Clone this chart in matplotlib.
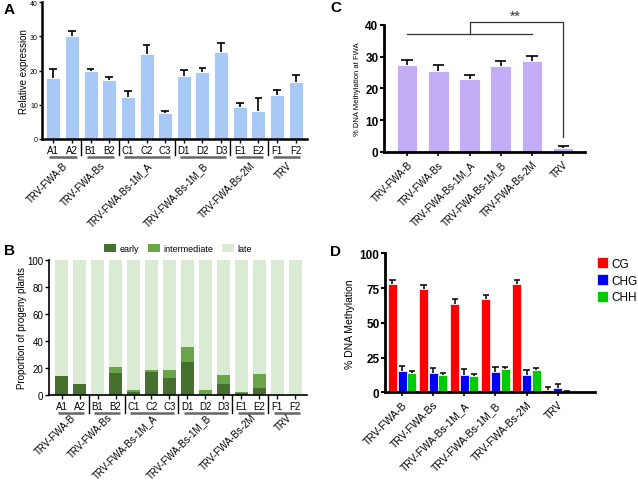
import numpy as np
import matplotlib
matplotlib.use("Agg")
from matplotlib import pyplot as plt

plt.rcParams['font.family'] = ['Liberation Sans', 'DejaVu Sans']

# ---- data ----
samples = ["A1", "A2", "B1", "B2", "C1", "C2", "C3", "D1", "D2", "D3", "E1", "E2", "F1", "F2"]
groups = ["TRV-FWA-B", "TRV-FWA-Bs", "TRV-FWA-Bs-1M_A", "TRV-FWA-Bs-1M_B", "TRV-FWA-Bs-2M", "TRV"]
group_sizes = [2, 2, 3, 3, 2, 2]

# panel A: relative expression
expr = [17.8, 30.1, 19.8, 17.3, 12.4, 24.7, 7.6, 18.3, 19.5, 25.4, 9.3, 8.2, 12.9, 16.7]
expr_err = [2.5, 1.3, 0.5, 0.7, 1.7, 2.7, 0.5, 1.9, 1.1, 2.5, 1.2, 3.8, 1.4, 2.0]

# panel B: flowering time classes (%)
early = [14.3, 7.9, 0, 16.5, 2.0, 16.7, 12.3, 24.6, 0, 8.4, 1.5, 5.4, 0, 0]
intermediate = [0, 0, 0, 4.2, 1.9, 1.8, 6.2, 10.9, 3.9, 6.1, 0.5, 10.1, 0, 0]

# panel C: % methylation at FWA
meth = [27.2, 25.5, 22.8, 27.0, 28.6, 1.2]
meth_err = [1.7, 1.7, 1.5, 1.7, 1.5, 0.7]

# panel D: methylation by context
contexts = ["CG", "CHG", "CHH"]
cg = [77.9, 74.1, 63.5, 66.9, 77.9, 1.9]
cg_err = [3.1, 3.0, 3.6, 3.3, 3.1, 1.9]
chg = [15.1, 14.0, 12.8, 14.5, 12.5, 3.2]
chg_err = [3.9, 3.6, 3.7, 3.9, 3.3, 2.8]
chh = [14.0, 12.5, 11.8, 17.0, 16.2, 0.5]
chh_err = [1.5, 1.5, 1.7, 1.5, 1.5, 0.2]

W, H = 638, 481
fig = plt.figure(figsize=(W / 100, H / 100), dpi=100)


def px_axes(left, top, right, bottom):
    return fig.add_axes([left / W, 1 - bottom / H, (right - left) / W, (bottom - top) / H])


def up_err(ax, x, y, e, capw, lw=1.0):
    x = np.asarray(x, float)
    y = np.asarray(y, float)
    e = np.asarray(e, float)
    ax.vlines(x, y, y + e, color="black", lw=lw, zorder=3)
    ax.hlines(y + e, x - capw, x + capw, color="black", lw=lw, zorder=3)


def style(ax, lw=1.5):
    for s in ["top", "right"]:
        ax.spines[s].set_visible(False)
    for s in ["left", "bottom"]:
        ax.spines[s].set_linewidth(lw)
        ax.spines[s].set_color("black")


def group_marks(ax, sep_len, line_y, lab_y, fs):
    # separators, underlines and rotated group labels under the sample ticks
    trans = ax.get_xaxis_transform()
    start = 0
    for i, n in enumerate(group_sizes):
        first, last = start, start + n - 1
        if i > 0:
            ax.plot([first - 0.5, first - 0.5], [0, -sep_len], transform=trans,
                    color="black", lw=1, clip_on=False)
        ax.plot([first - 0.2, last + 0.25], [line_y, line_y], transform=trans,
                color="#666666", lw=1.8, clip_on=False, solid_capstyle="butt")
        ax.text((first + last) / 2 + 0.4, lab_y, groups[i], transform=trans,
                rotation=45, ha="right", va="top", fontsize=fs)
        start += n


x14 = np.arange(len(samples))

# ---- Panel A ----
axA = px_axes(42, 3, 307, 140)
axA.bar(x14, expr, width=0.75, color="#a8c9f5", edgecolor="white", linewidth=0.6)
up_err(axA, x14, expr, expr_err, 0.2, lw=1.2)
axA.set_xlim(-0.6, 13.6)
axA.set_ylim(0, 40)
axA.set_yticks([0, 10, 20, 30, 40])
axA.tick_params(axis="y", labelsize=5, length=2, width=1, pad=1)
axA.set_xticks(x14)
axA.set_xticklabels(samples, fontsize=7)
axA.tick_params(axis="x", length=3, width=1, pad=1)
axA.set_ylabel("Relative expression", fontsize=7, labelpad=1)
style(axA, 1.8)
group_marks(axA, 0.12, -0.13, -0.15, 7)

# ---- Panel B ----
axB = px_axes(49, 260.7, 307, 396)
late = 100 - np.array(early) - np.array(intermediate)
axB.bar(x14, early, width=0.72, color="#45702e", label="early")
axB.bar(x14, intermediate, width=0.72, bottom=early, color="#6aa54a", label="intermediate")
axB.bar(x14, late, width=0.72, bottom=np.array(early) + np.array(intermediate),
        color="#d9ebd2", label="late")
axB.set_xlim(-0.7, 13.65)
axB.set_ylim(0, 100)
axB.set_yticks([0, 20, 40, 60, 80, 100])
axB.tick_params(axis="y", labelsize=7, length=3, width=1, pad=1)
axB.set_xticks(x14)
axB.set_xticklabels(samples, fontsize=7)
axB.tick_params(axis="x", length=3, width=1, pad=1)
axB.set_ylabel("Proportion of progeny plants", fontsize=7, labelpad=0)
style(axB, 1.2)
group_marks(axB, 0.13, -0.13, -0.125, 7)
axB.legend(loc="lower center", bbox_to_anchor=(0.5, 1.0), ncol=3, frameon=False,
           fontsize=6.5, handlelength=1.3, handleheight=1.0, columnspacing=1.0,
           handletextpad=0.4, borderaxespad=0.3)

# ---- Panel C ----
x6 = np.arange(len(groups))
axC = px_axes(384, 25.7, 585, 153)
axC.bar(x6, meth, width=0.66, color="#c3aef5", edgecolor="white", linewidth=0.6)
up_err(axC, x6, meth, meth_err, 0.18, lw=1.2)
axC.set_xlim(-0.74, 5.7)
axC.set_ylim(0, 40)
axC.set_yticks([0, 10, 20, 30, 40])
axC.set_yticklabels(["0", "10", "20", "30", "40"], fontweight="bold")
axC.tick_params(axis="y", labelsize=8.5, length=3, width=1.5, pad=1)
axC.set_xticks(x6)
axC.set_xticklabels(groups, rotation=45, ha="right", rotation_mode="anchor", fontsize=7)
axC.tick_params(axis="x", length=3, width=1.2, pad=2)
axC.set_ylabel("% DNA Methylation at FWA", fontsize=5.5, labelpad=3)
style(axC, 2.0)
axC.plot([0, 4], [37.1, 37.1], color="#333333", lw=0.9, clip_on=False)
axC.plot([2, 2, 5, 5], [37.1, 40.7, 40.7, 4.6], color="#333333", lw=0.9, clip_on=False)
axC.text(3.45, 40.6, "**", ha="center", va="bottom", fontsize=10, color="#333333")

# ---- Panel D ----
axD = px_axes(385, 254.3, 595, 393.3)
off = 0.31
bw = 0.29
for vals, errs, k, col in [(cg, cg_err, -1, "#ff0000"), (chg, chg_err, 0, "#0000ff"),
                           (chh, chh_err, 1, "#00cc00")]:
    axD.bar(x6 + k * off, vals, width=bw, color=col, edgecolor="white", linewidth=0.5,
            label=contexts[k + 1])
    up_err(axD, x6 + k * off, vals, errs, 0.1, lw=1.1)
axD.set_xlim(-0.55, 6.2)
axD.set_ylim(0, 100)
axD.set_yticks([0, 25, 50, 75, 100])
axD.set_yticklabels(["0", "25", "50", "75", "100"], fontweight="bold")
axD.tick_params(axis="y", labelsize=8.5, length=3, width=1.5, pad=1)
axD.set_xticks(x6)
axD.set_xticklabels(groups, rotation=45, ha="right", rotation_mode="anchor", fontsize=7.5)
axD.tick_params(axis="x", length=3, width=1.2, pad=2)
axD.set_ylabel("% DNA Methylation", fontsize=7.5, labelpad=3)
style(axD, 2.0)
axD.legend(loc="upper left", bbox_to_anchor=(1.0, 0.99), frameon=False, fontsize=8.5,
           handlelength=0.9, handleheight=1.1, handletextpad=0.25, labelspacing=0.35,
           borderaxespad=0.0, borderpad=0.2)

# panel letters
for lab, (px, py) in {"A": (4, 14), "B": (4, 255), "C": (330, 12), "D": (330, 256)}.items():
    fig.text(px / W, 1 - py / H, lab, fontsize=11, fontweight="bold")

fig.savefig("out.png", dpi=100)
